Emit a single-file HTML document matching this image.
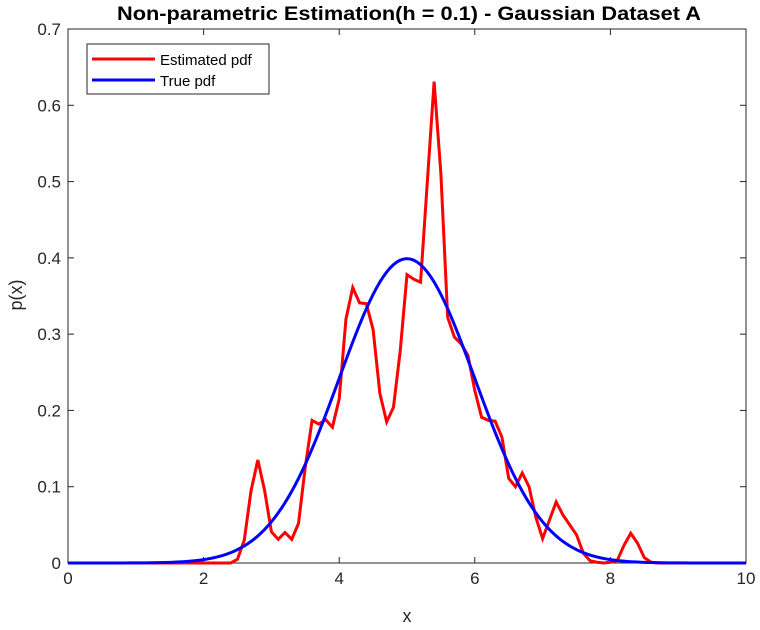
<!DOCTYPE html>
<html><head><meta charset="utf-8"><style>
body{margin:0;background:#fff;}
svg text{font-family:"Liberation Sans",Arial,sans-serif;}
</style></head><body>
<svg id="chart" width="760" height="625" viewBox="0 0 760 625">
<rect x="0" y="0" width="760" height="625" fill="#fff"/>
<text x="409" y="20" text-anchor="middle" font-size="19" font-weight="bold" fill="#000" textLength="584" lengthAdjust="spacingAndGlyphs">Non-parametric Estimation(h = 0.1) - Gaussian Dataset A</text>
<g id="axes"></g>
<g id="series"></g>
<text x="407" y="622" text-anchor="middle" font-size="18" fill="#262626">x</text>
<text transform="translate(22,295) rotate(-90)" text-anchor="middle" font-size="18" fill="#262626">p(x)</text>
<g>
<rect x="87" y="44" width="182" height="50" fill="#fff" stroke="#262626" stroke-width="1"/>
<line x1="92" y1="59" x2="155" y2="59" stroke="#ff0000" stroke-width="3"/>
<text x="160" y="65" font-size="15" fill="#000">Estimated pdf</text>
<line x1="92" y1="80" x2="155" y2="80" stroke="#0000ff" stroke-width="3"/>
<text x="160" y="86" font-size="15" fill="#000">True pdf</text>
</g>
</svg>
<script>
const xTicks=[0,2,4,6,8,10];
const yTicks=[0,0.1,0.2,0.3,0.4,0.5,0.6,0.7];
const xStart=0, xStep=0.1;
const estimated=[0,0,0,0,0,0,0,0,0,0,0,0,0,0,0,0,0,0,0,0,0,0,0,0,0,
0.005,0.03,0.095,0.135,0.095,0.041,0.031,0.040,0.031,0.052,0.126,0.187,0.182,0.188,0.178,
0.215,0.32,0.361,0.341,0.340,0.306,0.222,0.185,0.204,0.278,
0.378,0.372,0.368,0.50,0.631,0.51,0.322,0.296,0.287,0.272,
0.226,0.191,0.187,0.186,0.165,0.111,0.1,0.118,0.1,0.06,
0.032,0.056,0.08,0.063,0.05,0.037,0.013,0.003,0.001,0,
0.001,0.003,0.023,0.039,0.026,0.007,0.001,0,0,0,
0,0,0,0,0,0,0,0,0,0,0];
const trueMean=5, trueSigma=1;
const L=68,R=746,T=29,B=563;
const sx=v=>L+(v-0)/(10-0)*(R-L);
const sy=v=>B-(v-0)/(0.7-0)*(B-T);
const NS="http://www.w3.org/2000/svg";
const axes=document.getElementById('axes'), series=document.getElementById('series');
function mk(tag,attrs,parent){const e=document.createElementNS(NS,tag);for(const k in attrs)e.setAttribute(k,attrs[k]);parent.appendChild(e);return e;}
const box=mk('rect',{x:L,y:T,width:R-L,height:B-T,fill:'none',stroke:'#262626','stroke-width':1},axes);


xTicks.forEach(t=>{
 const x=sx(t);
 const a=mk('line',{x1:x,y1:B,x2:x,y2:B-6,stroke:'#262626'},axes);
 
 
 const b=mk('line',{x1:x,y1:T,x2:x,y2:T+6,stroke:'#262626'},axes);
 
 
 const tx=mk('text',{x:x,y:B+21,'text-anchor':'middle','font-size':'17',fill:'#262626'},axes);
 tx.textContent=t;
 
 
});
yTicks.forEach(t=>{
 const y=sy(t);
 const a=mk('line',{x1:L,y1:y,x2:L+6,y2:y,stroke:'#262626'},axes);
 
 
 const b=mk('line',{x1:R,y1:y,x2:R-6,y2:y,stroke:'#262626'},axes);
 
 
 const tx=mk('text',{x:L-7,y:y+6,'text-anchor':'end','font-size':'17',fill:'#262626'},axes);
 tx.textContent=t;
 
 
});
const redPts=estimated.map((v,i)=>sx(xStart+i*xStep).toFixed(2)+','+sy(v).toFixed(2)).join(' ');
const red=mk('polyline',{points:redPts,fill:'none',stroke:'#ff0000','stroke-width':3,'stroke-linejoin':'miter'},series);


const bp=[];
for(let i=0;i<=200;i++){const x=i*0.05;const v=Math.exp(-0.5*((x-trueMean)/trueSigma)**2)/(trueSigma*Math.sqrt(2*Math.PI));bp.push(sx(x).toFixed(2)+','+sy(v).toFixed(2));}
const blue=mk('polyline',{points:bp.join(' '),fill:'none',stroke:'#0000ff','stroke-width':3},series);


</script>
</body></html>
